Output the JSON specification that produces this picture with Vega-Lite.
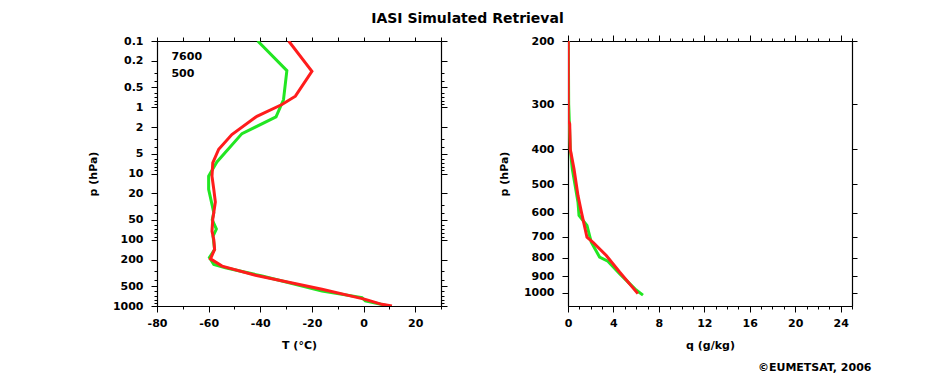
{
  "$schema": "https://vega.github.io/schema/vega-lite/v6.json",
  "padding": {"left": 86, "top": 12, "right": 5, "bottom": 0},
  "background": "white",
  "title": {"text": "IASI Simulated Retrieval", "font": "DejaVu Sans", "fontSize": 14, "fontWeight": "bold", "color": "black", "anchor": "middle", "offset": 8, "dx": -12},
  "datasets": {
    "temp": [
      {"series": "7600", "p": 0.1, "T": -41},
      {"series": "7600", "p": 0.28, "T": -29.7},
      {"series": "7600", "p": 0.77, "T": -31},
      {"series": "7600", "p": 1.4, "T": -33.9},
      {"series": "7600", "p": 2.5, "T": -47.1},
      {"series": "7600", "p": 6.7, "T": -56.8},
      {"series": "7600", "p": 9.8, "T": -59.3},
      {"series": "7600", "p": 11, "T": -60},
      {"series": "7600", "p": 17.4, "T": -60},
      {"series": "7600", "p": 27, "T": -58.9},
      {"series": "7600", "p": 39, "T": -58},
      {"series": "7600", "p": 50, "T": -58.6},
      {"series": "7600", "p": 69, "T": -57},
      {"series": "7600", "p": 88, "T": -58.3},
      {"series": "7600", "p": 140, "T": -57.7},
      {"series": "7600", "p": 186, "T": -59.7},
      {"series": "7600", "p": 236, "T": -58},
      {"series": "7600", "p": 264, "T": -53.5},
      {"series": "7600", "p": 353, "T": -39.3},
      {"series": "7600", "p": 595, "T": -16.1},
      {"series": "7600", "p": 747, "T": -0.6},
      {"series": "7600", "p": 835, "T": 0.7},
      {"series": "7600", "p": 1000, "T": 9.7},
      {"series": "500", "p": 0.1, "T": -29},
      {"series": "500", "p": 0.287, "T": -20},
      {"series": "500", "p": 0.68, "T": -26.4},
      {"series": "500", "p": 0.91, "T": -31.6},
      {"series": "500", "p": 1.37, "T": -41.3},
      {"series": "500", "p": 2.58, "T": -51},
      {"series": "500", "p": 4.3, "T": -56.1},
      {"series": "500", "p": 6.9, "T": -58.4},
      {"series": "500", "p": 11, "T": -58.7},
      {"series": "500", "p": 17.4, "T": -58},
      {"series": "500", "p": 27, "T": -57.4},
      {"series": "500", "p": 49, "T": -58.4},
      {"series": "500", "p": 74, "T": -58.7},
      {"series": "500", "p": 100, "T": -58},
      {"series": "500", "p": 140, "T": -57.7},
      {"series": "500", "p": 180, "T": -58.9},
      {"series": "500", "p": 194, "T": -59.3},
      {"series": "500", "p": 250, "T": -54.8},
      {"series": "500", "p": 344, "T": -41.9},
      {"series": "500", "p": 560, "T": -16.1},
      {"series": "500", "p": 795, "T": 0.7},
      {"series": "500", "p": 944, "T": 7.1},
      {"series": "500", "p": 1000, "T": 11}
    ],
    "hum": [
      {"series": "7600", "p": 200, "q": 0.03},
      {"series": "7600", "p": 300, "q": 0.06},
      {"series": "7600", "p": 400, "q": 0.2},
      {"series": "7600", "p": 454, "q": 0.38},
      {"series": "7600", "p": 561, "q": 0.88},
      {"series": "7600", "p": 611, "q": 0.97},
      {"series": "7600", "p": 651, "q": 1.67},
      {"series": "7600", "p": 725, "q": 2.05},
      {"series": "7600", "p": 797, "q": 2.78},
      {"series": "7600", "p": 818, "q": 3.51},
      {"series": "7600", "p": 886, "q": 4.54},
      {"series": "7600", "p": 984, "q": 6.0},
      {"series": "7600", "p": 1017, "q": 6.6},
      {"series": "500", "p": 200, "q": 0.02},
      {"series": "500", "p": 333, "q": 0.02},
      {"series": "500", "p": 340, "q": 0.15},
      {"series": "500", "p": 400, "q": 0.2},
      {"series": "500", "p": 454, "q": 0.53},
      {"series": "500", "p": 538, "q": 0.88},
      {"series": "500", "p": 598, "q": 1.18},
      {"series": "500", "p": 702, "q": 1.67},
      {"series": "500", "p": 725, "q": 2.2},
      {"series": "500", "p": 789, "q": 3.37},
      {"series": "500", "p": 877, "q": 4.54},
      {"series": "500", "p": 1007, "q": 6.15}
    ],
    "labels": [
      {"label": "7600", "p": 0.174, "T": -74.4},
      {"label": "500", "p": 0.314, "T": -74.4}
    ]
  },
  "spacing": 49,
  "hconcat": [
    {
      "width": 284,
      "height": 265,
      "layer": [
        {
          "data": {"name": "temp"},
          "transform": [{"filter": "datum.series === '7600'"}],
          "mark": {"type": "line", "color": "#22e622", "strokeWidth": 3, "clip": true},
          "encoding": {
            "x": {"field": "T", "type": "quantitative", "scale": {"domain": [-80, 30], "nice": false, "zero": false},
              "axis": {"title": "T (°C)", "orient": "bottom", "values": [-80, -70, -60, -50, -40, -30, -20, -10, 0, 10, 20, 30],
                "labelExpr": "datum.value % 20 === 0 && datum.value < 30 ? '' + datum.value : ''",
                "tickSize": {"condition": {"test": "datum.value % 20 === 0", "value": 6}, "value": 3}}},
            "y": {"field": "p", "type": "quantitative", "scale": {"type": "log", "domain": [0.1, 1000], "reverse": true, "nice": false},
              "axis": {"title": "p (hPa)", "orient": "left", "format": "~g",
                "values": [0.1, 0.2, 0.3, 0.4, 0.5, 0.6, 0.7, 0.8, 0.9, 1, 2, 3, 4, 5, 6, 7, 8, 9, 10, 20, 30, 40, 50, 60, 70, 80, 90, 100, 200, 300, 400, 500, 600, 700, 800, 900, 1000],
                "labelExpr": "indexof([0.1, 0.2, 0.5, 1, 2, 5, 10, 20, 50, 100, 200, 500, 1000], datum.value) >= 0 ? datum.label : ''",
                "tickSize": {"condition": {"test": "indexof([0.1, 0.2, 0.5, 1, 2, 5, 10, 20, 50, 100, 200, 500, 1000], datum.value) >= 0", "value": 6}, "value": 3}}},
            "order": {"field": "p", "type": "quantitative"}
          }
        },
        {
          "data": {"name": "temp"},
          "transform": [{"filter": "datum.series === '500'"}],
          "mark": {"type": "line", "color": "#ff1c1c", "strokeWidth": 3, "clip": true},
          "encoding": {
            "x": {"field": "T", "type": "quantitative", "axis": null},
            "y": {"field": "p", "type": "quantitative", "axis": null},
            "order": {"field": "p", "type": "quantitative"}
          }
        },
        {
          "data": {"name": "labels"},
          "mark": {"type": "text", "align": "left", "baseline": "middle", "font": "DejaVu Sans", "fontWeight": "bold", "fontSize": 11, "color": "black"},
          "encoding": {
            "x": {"field": "T", "type": "quantitative", "axis": null},
            "y": {"field": "p", "type": "quantitative", "axis": null},
            "text": {"field": "label"}
          }
        },
        {
          "data": {"name": "temp"},
          "mark": {"type": "line", "opacity": 0},
          "encoding": {
            "x": {"field": "T", "type": "quantitative",
              "axis": {"orient": "top", "title": null, "labels": false, "values": [-80, -70, -60, -50, -40, -30, -20, -10, 0, 10, 20, 30], "tickSize": 4}},
            "y": {"field": "p", "type": "quantitative",
              "axis": {"orient": "right", "title": null, "labels": false,
                "values": [0.1, 0.2, 0.3, 0.4, 0.5, 0.6, 0.7, 0.8, 0.9, 1, 2, 3, 4, 5, 6, 7, 8, 9, 10, 20, 30, 40, 50, 60, 70, 80, 90, 100, 200, 300, 400, 500, 600, 700, 800, 900, 1000],
                "tickSize": {"condition": {"test": "indexof([0.1, 0.2, 0.5, 1, 2, 5, 10, 20, 50, 100, 200, 500, 1000], datum.value) >= 0", "value": 6}, "value": 3}}},
            "detail": {"field": "series"}
          }
        }
      ],
      "resolve": {"axis": {"x": "independent", "y": "independent"}}
    },
    {
      "width": 284,
      "height": 265,
      "title": {"text": "©EUMETSAT, 2006", "orient": "bottom", "anchor": "end", "font": "DejaVu Sans", "fontSize": 11, "fontWeight": "bold", "color": "black", "offset": 12, "dx": 14},
      "layer": [
        {
          "data": {"name": "hum"},
          "transform": [{"filter": "datum.series === '7600'"}],
          "mark": {"type": "line", "color": "#22e622", "strokeWidth": 3, "clip": true},
          "encoding": {
            "x": {"field": "q", "type": "quantitative", "scale": {"domain": [0, 25], "nice": false, "zero": false},
              "axis": {"title": "q (g/kg)", "orient": "bottom", "values": [0, 1, 2, 3, 4, 5, 6, 7, 8, 9, 10, 11, 12, 13, 14, 15, 16, 17, 18, 19, 20, 21, 22, 23, 24, 25],
                "labelExpr": "datum.value % 4 === 0 ? '' + datum.value : ''",
                "tickSize": {"condition": {"test": "datum.value % 4 === 0", "value": 6}, "value": 3}}},
            "y": {"field": "p", "type": "quantitative", "scale": {"type": "log", "domain": [200, 1090], "reverse": true, "nice": false},
              "axis": {"title": "p (hPa)", "orient": "left", "format": "d", "values": [200, 300, 400, 500, 600, 700, 800, 900, 1000], "tickSize": 6}},
            "order": {"field": "p", "type": "quantitative"}
          }
        },
        {
          "data": {"name": "hum"},
          "transform": [{"filter": "datum.series === '500'"}],
          "mark": {"type": "line", "color": "#ff1c1c", "strokeWidth": 3, "clip": true},
          "encoding": {
            "x": {"field": "q", "type": "quantitative", "axis": null},
            "y": {"field": "p", "type": "quantitative", "axis": null},
            "order": {"field": "p", "type": "quantitative"}
          }
        },
        {
          "data": {"name": "hum"},
          "mark": {"type": "line", "opacity": 0},
          "encoding": {
            "x": {"field": "q", "type": "quantitative",
              "axis": {"orient": "top", "title": null, "labels": false, "values": [0, 1, 2, 3, 4, 5, 6, 7, 8, 9, 10, 11, 12, 13, 14, 15, 16, 17, 18, 19, 20, 21, 22, 23, 24, 25],
                "tickSize": {"condition": {"test": "datum.value % 4 === 0", "value": 6}, "value": 3}}},
            "y": {"field": "p", "type": "quantitative",
              "axis": {"orient": "right", "title": null, "labels": false, "values": [200, 300, 400, 500, 600, 700, 800, 900, 1000], "tickSize": 5}},
            "detail": {"field": "series"}
          }
        }
      ],
      "resolve": {"axis": {"x": "independent", "y": "independent"}}
    }
  ],
  "config": {
    "view": {"stroke": "black", "strokeWidth": 1},
    "axis": {
      "grid": false,
      "domainColor": "black",
      "domainWidth": 1.2,
      "tickColor": "black",
      "tickWidth": 1,
      "labelFont": "DejaVu Sans",
      "labelFontSize": 11,
      "labelFontWeight": "bold",
      "labelColor": "black",
      "labelOverlap": false,
      "labelFlush": false,
      "titleFont": "DejaVu Sans",
      "titleFontSize": 11,
      "titleFontWeight": "bold",
      "titleColor": "black"
    },
    "axisX": {"labelPadding": 5, "titlePadding": 11},
    "axisY": {"labelPadding": 8, "titlePadding": 14}
  }
}
